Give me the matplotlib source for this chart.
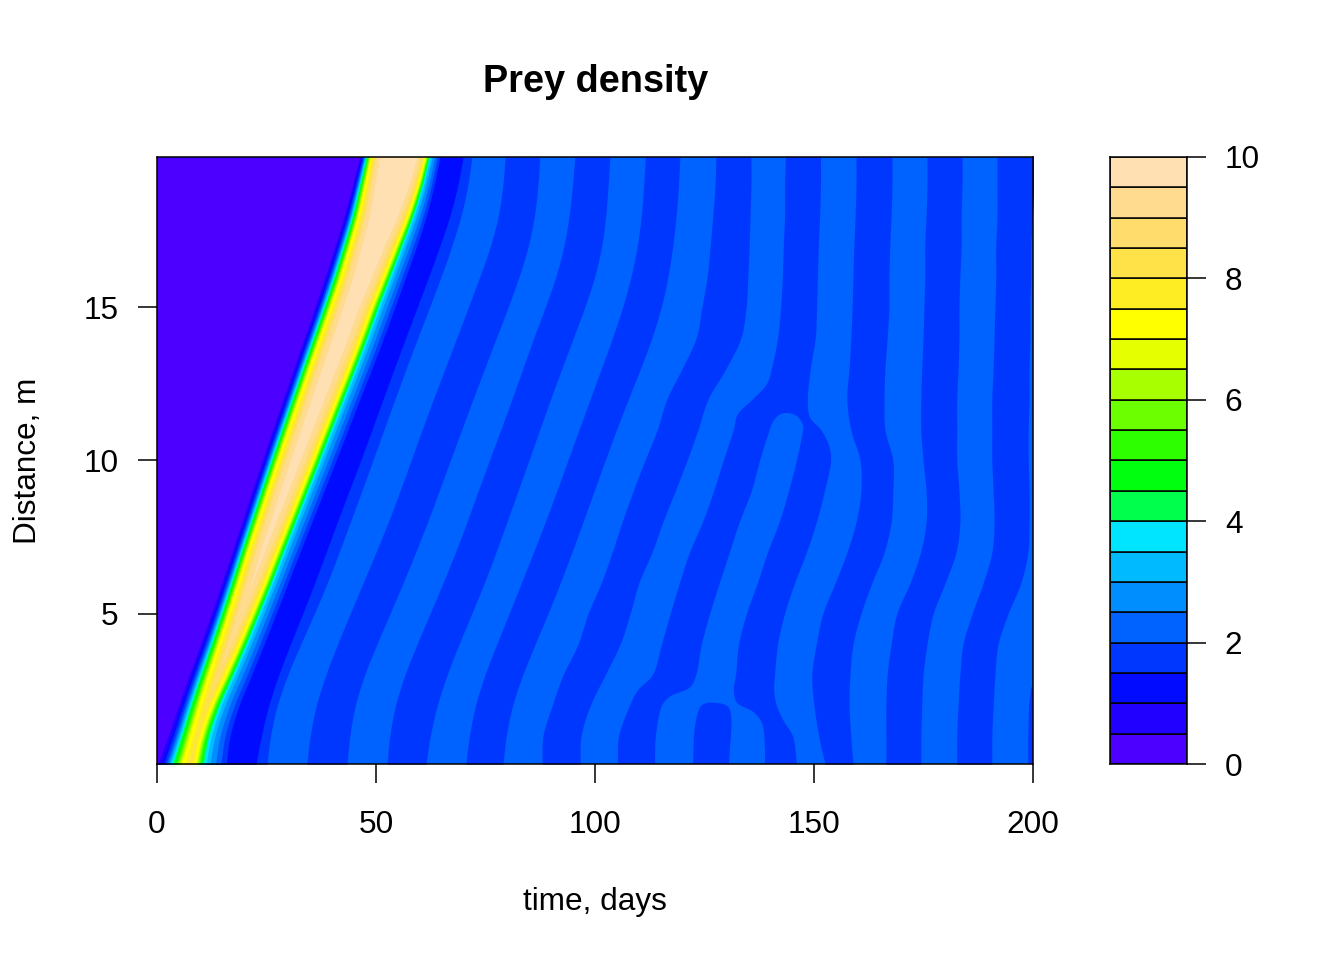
import colorsys
import numpy as np
import matplotlib
matplotlib.use("Agg")
import matplotlib.pyplot as plt

plt.rcParams['font.family'] = ['Liberation Sans', 'DejaVu Sans']

distance = np.array([0.1, 1, 2, 3, 4, 5, 6, 7, 8, 9, 10, 11, 12, 13, 14, 15, 16, 17, 18, 19, 19.9])

# Contour levels of the colour key
key_levels = np.arange(0, 10.5, 0.5)
pulse_levels = np.arange(1.5, 10, 0.5)

# Time (days) of the pulse fronts per distance row
front_rise = [0.2, 2.5, 4.8, 7.3, 10.0, 12.4, 14.8, 17.1, 19.4, 21.7, 24.0, 26.4, 28.8, 31.2, 33.6, 36.1, 38.4, 40.6, 42.9, 44.7, 46.3]
front_fall = [15.8, 16.2, 18.5, 21.7, 24.4, 27.2, 29.9, 32.6, 35.4, 38.1, 40.9, 43.6, 46.3, 49.1, 51.8, 54.3, 56.8, 59.4, 61.6, 63.5, 64.6]
rise_width = [1.6, 1.45, 1.35, 1.25, 1.17, 1.1, 1.05, 1, 1, 1, 1, 1, 1, 1, 1, 1, 1, 0.95, 0.9, 0.8, 0.7]
fall_width = [1.35, 1.25, 1.18, 1.12, 1.07, 1.03, 1, 1, 1, 1, 1, 1, 1, 1, 1, 1, 0.95, 0.9, 0.8, 0.7, 0.64]
rise_lag_1 = 0.46
rise_lag = [0.8, 1.14, 1.37, 1.6, 1.83, 2.05, 2.28, 2.51, 2.74, 2.97, 3.2, 3.42, 3.88, 4.34, 4.79, 5.25, 6.39]
fall_lead = [0, 0.91, 1.83, 2.74, 3.42, 3.88, 4.11, 4.34, 4.57, 4.79, 5.02, 5.25, 5.59, 5.94, 6.39, 7.08, 8.22]

# Edges of the wave bands behind the pulse (days), per distance row
trough_end = [22.6, 23.5, 25.1, 27.6, 30.4, 33.3, 36.1, 38.6, 41.1, 43.8, 46.6, 49.1, 51.6, 54.1, 56.8, 59.4, 62.1, 64.6, 67.1, 69.4, 69.9]
first_light = [25.1, 25.3, 26.9, 29.7, 32.6, 36.1, 39.0, 41.6, 44.1, 46.8, 49.3, 51.8, 54.3, 56.8, 59.6, 62.1, 65.1, 67.4, 69.6, 71.7, 71.9]
wave1_a = [34.2, 34.5, 35.8, 38.4, 41.1, 44.1, 47.0, 50.0, 53.0, 55.5, 58.0, 60.5, 63.0, 65.8, 68.5, 71.0, 73.7, 76.5, 78.5, 79.2, 79.5]
wave1_b = [43.4, 43.6, 44.7, 47.0, 50.2, 53.2, 56.2, 59.1, 61.9, 64.4, 66.9, 69.6, 72.1, 74.7, 77.6, 80.1, 82.9, 85.2, 86.5, 87.2, 87.4]
wave2_a = [52.5, 52.7, 53.9, 56.2, 59.4, 62.3, 65.3, 68.3, 70.8, 73.3, 75.8, 78.5, 81.1, 83.6, 85.8, 88.6, 91.6, 93.2, 94.3, 95.0, 95.4]
wave2_b = [61.4, 61.9, 63.5, 66.2, 68.7, 71.9, 74.9, 77.4, 79.9, 82.4, 84.9, 87.4, 89.7, 92.5, 95.0, 97.7, 100.5, 101.8, 102.7, 103.0, 103.4]
wave3_a = [70.5, 71.0, 72.1, 74.6, 77.6, 80.4, 83.1, 86.0, 88.7, 91.3, 93.8, 96.3, 98.9, 101.4, 104.1, 106.5, 108.5, 109.9, 110.8, 111.2, 111.5]
wave3_b = [79.0, 79.2, 80.6, 83.3, 86.3, 89.3, 92.2, 94.7, 97.3, 99.8, 102.3, 104.8, 107.5, 110.5, 113.2, 115.5, 116.9, 117.8, 118.7, 119.2, 119.4]
wave4_a = [87.9, 88.1, 90.2, 92.7, 96.1, 98.4, 101.4, 103.9, 106.2, 108.7, 111.4, 114.2, 116.4, 119.9, 123.1, 124.4, 125.6, 126.3, 126.9, 127.4, 127.6]
wave4_b = [96.6, 96.8, 98.9, 102.3, 105.7, 108.0, 110.0, 113.0, 115.5, 118.3, 121.0, 123.5, 125.8, 129.9, 133.3, 134.5, 134.9, 135.2, 135.4, 135.6, 135.6]
wave8_a = [152.5, 151.1, 150.0, 149.5, 150.5, 152.0, 154.8, 157.5, 159.6, 160.7, 160.5, 158.4, 157.5, 158.0, 158.4, 158.7, 158.9, 159.1, 159.4, 159.6, 159.6]
wave8_b = [158.9, 158.4, 158.0, 158.2, 158.9, 160.7, 163.2, 166.0, 167.6, 168.0, 168.0, 166.2, 166.0, 166.2, 166.7, 167.1, 167.1, 167.3, 167.6, 167.8, 167.8]
wave9_a = [166.4, 166.4, 166.4, 166.7, 167.6, 168.9, 171.9, 174.3, 175.6, 175.6, 174.9, 174.4, 174.4, 174.6, 174.9, 175.1, 175.3, 175.3, 175.6, 175.8, 175.8]
wave9_b = [174.4, 174.4, 174.6, 174.9, 175.8, 177.2, 179.9, 182.4, 183.3, 183.1, 182.6, 182.6, 182.6, 182.9, 183.1, 183.1, 183.3, 183.6, 183.6, 183.8, 183.8]
wave10_a = [182.6, 182.6, 182.9, 183.3, 184.0, 186.1, 188.6, 190.6, 191.1, 190.9, 190.6, 190.6, 190.6, 190.9, 191.1, 191.3, 191.5, 191.5, 191.8, 191.8, 191.8]
wave10_b = [190.6, 190.6, 190.9, 191.3, 192.0, 194.3, 197.2, 198.8, 199.1, 199.1, 198.9, 198.9, 199.1, 199.1, 199.3, 199.3, 199.5, 199.5, 199.9, 200.2, 200.7]

# Forked band (two arms joining above the closed tongue)
fork_left_d = [0.1, 1, 2, 2.5, 3, 4, 5, 6, 7, 8, 9, 10, 11, 11.5, 12, 12.5, 13, 14, 15, 16, 17, 18, 19, 19.9]
fork_left_t = [105.2, 105.5, 108.0, 109.8, 113.2, 115.3, 117.3, 119.4, 121.7, 124.7, 127.2, 129.4, 131.7, 132.6, 136.1, 139.3, 140.4, 141.8, 142.5, 142.9, 143.1, 143.4, 143.4, 143.6]
fork_right_d = [19.9, 19, 18, 17, 16, 15, 14, 13, 12, 11.4, 11, 10.5, 10, 9, 8, 7, 6, 5, 4, 3, 2.5, 2, 1.5, 1, 0.1]
fork_right_t = [151.6, 151.6, 151.4, 151.1, 150.9, 150.7, 150.4, 149.3, 148.6, 149.1, 151.6, 153.4, 153.9, 152.5, 150.7, 148.4, 145.7, 143.4, 141.8, 141.1, 140.9, 141.5, 143.1, 145.2, 146.1]
tongue_d = [0.1, 0.65, 1.44, 1.8, 2.1, 2.5, 3, 4, 5, 6, 7, 8, 9, 10, 11, 11.15, 11.45, 11.55, 11.5, 11.26, 11, 10, 9, 8, 7, 6, 5, 4, 3, 2.6, 2.3, 2, 1, 0.1]
tongue_t = [138.8, 138.8, 138.1, 136.1, 132.4, 131.7, 132.2, 132.9, 134.7, 137.2, 139.5, 142.2, 144.3, 146.1, 147.5, 147.5, 146.1, 143.8, 142.2, 140.6, 139.9, 137.7, 135.8, 133.1, 130.8, 128.5, 126.3, 124.4, 123.1, 121.7, 117.1, 115.3, 113.9, 113.7]

# Small closed dark island at the bottom, and the dark sliver at the right edge
island_d = [0.1, 1.3, 1.95, 2.07, 2.1, 2.0, 1.75, 0.1]
island_t = [122.4, 122.8, 124.0, 125.1, 126.9, 130.1, 131.0, 130.6]
sliver_d = [0.1, 1, 2, 2.6, 2.6, 0.1]
sliver_t = [198.9, 198.9, 199.1, 199.6, 201, 201]

# Axis tick labels
time_ticks = [0, 50, 100, 150, 200]
dist_ticks = [5, 10, 15]
key_ticks = [0, 2, 4, 6, 8, 10]


def topo_colours(n):
    j = n // 3
    k = n // 3
    i = n - j - k
    out = []
    for h in np.linspace(43 / 60, 31 / 60, i):
        out.append(colorsys.hsv_to_rgb(h, 1, 1))
    for h in np.linspace(23 / 60, 11 / 60, j):
        out.append(colorsys.hsv_to_rgb(h, 1, 1))
    for h, s in zip(np.linspace(10 / 60, 6 / 60, k), np.linspace(1, 0.3, k)):
        out.append(colorsys.hsv_to_rgb(h, s, 1))
    return out


def curve(t, d, sub=10):
    """Centripetal Catmull-Rom curve through the read points (t scaled to look like screen space)."""
    t = np.asarray(t, float)
    d = np.asarray(d, float)
    P = np.column_stack([t * 4.38, d * 30.65])
    P = np.vstack([2 * P[0] - P[1], P, 2 * P[-1] - P[-2]])
    out = []
    for i in range(1, len(P) - 2):
        p0, p1, p2, p3 = P[i - 1], P[i], P[i + 1], P[i + 2]
        k0 = 0.0
        k1 = k0 + max(np.linalg.norm(p1 - p0), 1e-6) ** 0.5
        k2 = k1 + max(np.linalg.norm(p2 - p1), 1e-6) ** 0.5
        k3 = k2 + max(np.linalg.norm(p3 - p2), 1e-6) ** 0.5
        for u in np.linspace(k1, k2, sub, endpoint=False):
            a1 = (k1 - u) / (k1 - k0) * p0 + (u - k0) / (k1 - k0) * p1
            a2 = (k2 - u) / (k2 - k1) * p1 + (u - k1) / (k2 - k1) * p2
            a3 = (k3 - u) / (k3 - k2) * p2 + (u - k2) / (k3 - k2) * p3
            b1 = (k2 - u) / (k2 - k0) * a1 + (u - k0) / (k2 - k0) * a2
            b2 = (k3 - u) / (k3 - k1) * a2 + (u - k1) / (k3 - k1) * a3
            out.append((k2 - u) / (k2 - k1) * b1 + (u - k1) / (k2 - k1) * b2)
    out.append(P[-2])
    out = np.array(out)
    return out[:, 0] / 4.38, out[:, 1] / 30.65


dense_d = np.concatenate([np.linspace(distance[i], distance[i + 1], 10, endpoint=False)
                          for i in range(len(distance) - 1)] + [[distance[-1]]])


def dense(values, passes=0):
    """Curve through an edge read at the distance rows; passes evens out reading jitter."""
    v = np.asarray(values, float).copy()
    for _ in range(passes):
        v[1:-1] = 0.25 * v[:-2] + 0.5 * v[1:-1] + 0.25 * v[2:]
    t, d = curve(v, distance)
    return np.interp(dense_d, d, t)


colours = topo_colours(20)
W, H = 1344, 960
LW = 1.1
FS = 22.7

fig = plt.figure(figsize=(W / 100, H / 100), dpi=100, facecolor='white')
ax = fig.add_axes([157 / W, 1 - 764 / H, 876 / W, 607 / H])
key = fig.add_axes([1110 / W, 1 - 764 / H, 77 / W, 607 / H])

ax.set_xlim(0, 200)
ax.set_ylim(0.1, 19.9)
ax.set_facecolor(colours[4])


def band(left, right, idx):
    left = np.asarray(left)
    right = np.asarray(right)
    ax.fill_betweenx(dense_d, left, right, color=colours[idx], linewidth=0, interpolate=True,
                     where=left <= right)


dark = 3
for a, b, n in [(wave1_a, wave1_b, 2), (wave2_a, wave2_b, 2), (wave3_a, wave3_b, 2), (wave4_a, wave4_b, 0),
                (wave8_a, wave8_b, 0), (wave9_a, wave9_b, 0), (wave10_a, wave10_b, 0)]:
    band(dense(a, n), dense(b, n), dark)

pieces = [curve(fork_left_t, fork_left_d), curve(fork_right_t, fork_right_d), curve(tongue_t, tongue_d)]
ax.fill(np.concatenate([p[0] for p in pieces]), np.concatenate([p[1] for p in pieces]),
        color=colours[dark], linewidth=0)
ax.fill(*curve(island_t, island_d), color=colours[dark], linewidth=0)
ax.fill(sliver_t, sliver_d, color=colours[dark], linewidth=0)

zero = np.zeros(len(dense_d))
rise0 = dense(front_rise, 1)
fall0 = dense(front_fall, 1)
rs = np.interp(dense_d, distance, rise_width)
fs = np.interp(dense_d, distance, fall_width)

band(zero, dense(first_light, 2), 3)
band(zero, dense(trough_end, 2), 2)
band(zero, rise0 + rise_lag_1 * rs, 1)
band(zero, rise0, 0)
for level, r_off, f_off in zip(pulse_levels, rise_lag, fall_lead):
    band(rise0 + r_off * rs, fall0 - f_off * fs, int(round(level / 0.5)))

ax.set_xticks(time_ticks)
ax.set_yticks(dist_ticks)
ax.tick_params(axis='x', length=13.7, width=LW, labelsize=FS, pad=19.5)
ax.tick_params(axis='y', length=13.7, width=LW, labelsize=FS, pad=14)
for s in ax.spines.values():
    s.set_linewidth(LW)

key.set_xlim(0, 1)
key.set_ylim(0, 10)
key.bar(0.5, np.diff(key_levels), width=1, bottom=key_levels[:-1], color=colours,
        edgecolor='black', linewidth=LW)
key.set_xticks([])
key.yaxis.tick_right()
key.set_yticks(key_ticks)
key.tick_params(axis='y', length=13.7, width=LW, labelsize=FS, pad=13.5)
for s in key.spines.values():
    s.set_linewidth(LW)

fig.text(596 / W, 1 - 82 / H, 'Prey density', ha='center', va='center', fontsize=27.3, fontweight='bold')
fig.text(595 / W, 1 - 902 / H, 'time, days', ha='center', va='center', fontsize=FS)
fig.text(28 / W, 1 - 461 / H, 'Distance, m', ha='center', va='center', rotation=90, fontsize=FS)

fig.savefig('out.png', dpi=100)
